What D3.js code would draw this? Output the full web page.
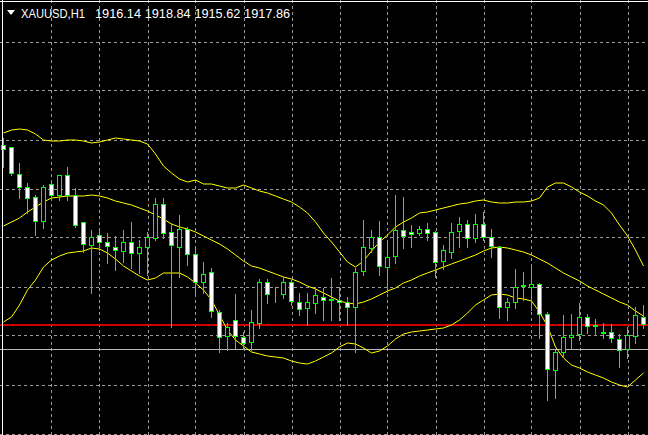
<!DOCTYPE html>
<html>
<head>
<meta charset="utf-8">
<script src="https://cdn.jsdelivr.net/npm/d3@7"></script>
<style>
  html, body { margin: 0; padding: 0; background: #000; }
  svg { display: block; }
</style>
</head>
<body>
<div id="chart"></div>
<script>
// XAUUSD H1 bars (one entry per bar, left to right)
var barOpen = [
  1944.4, 1944.2, 1941.6, 1940.3, 1939.2, 1936.8, 1940.6, 1939.4, 1941.4, 1939.5,
  1936.7, 1934.5, 1935.4, 1934.7, 1934.3, 1933.9, 1934.8, 1933.7, 1934.3, 1935.2,
  1938.6, 1935.7, 1934.3, 1936.1, 1933.6, 1930.8, 1931.7, 1927.8, 1925.3, 1926.9,
  1925.3, 1924.7, 1926.7, 1930.8, 1929.6, 1929.6, 1930.8, 1928.8, 1928.1, 1928.6,
  1929.3, 1929.1, 1928.9, 1928.8, 1928.3, 1931.8, 1934.2, 1935.2, 1932.3, 1933.3,
  1935.9, 1935.7, 1935.7, 1936.1, 1935.8, 1932.8, 1933.8, 1935.8, 1936.5, 1935.1,
  1936.5, 1935.2, 1934.3, 1928.3, 1928.7, 1930.3, 1930.3, 1930.6, 1927.6, 1922.0,
  1923.8, 1925.3, 1925.6, 1927.3, 1926.3, 1925.7, 1925.7, 1925.1, 1924.0, 1925.4,
  1927.3
];
var barHigh = [
  1945.2, 1944.3, 1942.7, 1940.7, 1939.5, 1940.5, 1940.7, 1941.5, 1942.3, 1940.2,
  1936.8, 1936.0, 1936.0, 1935.7, 1935.4, 1936.0, 1936.8, 1935.0, 1935.8, 1939.2,
  1939.2, 1936.7, 1937.5, 1936.3, 1934.2, 1932.8, 1932.2, 1928.0, 1926.7, 1929.6,
  1925.8, 1928.0, 1931.1, 1931.1, 1930.3, 1931.3, 1931.0, 1929.7, 1929.7, 1930.3,
  1930.2, 1931.2, 1930.3, 1929.3, 1932.2, 1937.0, 1936.0, 1936.9, 1935.0, 1939.5,
  1939.3, 1936.5, 1936.4, 1936.7, 1935.9, 1934.5, 1936.7, 1937.3, 1937.0, 1937.6,
  1937.8, 1936.1, 1934.4, 1929.2, 1932.1, 1931.8, 1932.5, 1930.7, 1927.8, 1924.0,
  1927.5, 1927.6, 1928.7, 1927.6, 1927.1, 1926.7, 1926.6, 1925.6, 1926.3, 1928.3,
  1928.5
];
var barLow = [
  1942.3, 1941.5, 1939.2, 1937.7, 1935.5, 1936.2, 1939.0, 1939.0, 1939.0, 1936.3,
  1933.8, 1929.7, 1934.0, 1932.7, 1932.0, 1932.8, 1932.2, 1931.7, 1931.5, 1935.0,
  1935.2, 1926.3, 1931.3, 1932.5, 1929.7, 1929.7, 1927.3, 1923.8, 1924.0, 1924.2,
  1924.1, 1924.0, 1926.2, 1928.7, 1928.8, 1929.2, 1928.5, 1927.5, 1926.5, 1927.7,
  1927.0, 1927.0, 1927.0, 1926.5, 1923.8, 1931.5, 1933.8, 1931.5, 1929.8, 1932.7,
  1934.2, 1934.3, 1935.5, 1935.0, 1931.3, 1932.1, 1933.2, 1934.3, 1934.3, 1934.8,
  1935.0, 1933.3, 1927.2, 1927.0, 1928.2, 1929.0, 1928.0, 1925.2, 1919.0, 1919.2,
  1923.4, 1924.1, 1925.0, 1925.7, 1925.5, 1925.2, 1924.8, 1922.3, 1923.2, 1924.7,
  1926.2
];
var barClose = [
  1944.0, 1941.6, 1940.3, 1939.2, 1936.8, 1940.2, 1939.5, 1941.4, 1939.4, 1936.5,
  1934.5, 1935.3, 1934.7, 1934.3, 1934.0, 1934.8, 1933.7, 1934.3, 1935.3, 1938.6,
  1935.7, 1934.4, 1936.1, 1933.6, 1930.8, 1931.6, 1927.8, 1925.3, 1926.2, 1925.3,
  1924.7, 1926.7, 1930.8, 1929.6, 1929.6, 1930.8, 1928.9, 1928.1, 1928.7, 1929.4,
  1929.0, 1929.0, 1928.7, 1928.3, 1931.8, 1934.2, 1935.3, 1932.3, 1933.3, 1935.9,
  1935.3, 1935.5, 1936.1, 1935.7, 1932.8, 1933.9, 1935.8, 1936.5, 1935.1, 1936.5,
  1935.2, 1934.3, 1928.3, 1928.8, 1930.2, 1930.4, 1930.6, 1927.6, 1922.1, 1923.8,
  1925.3, 1925.5, 1927.3, 1926.4, 1926.4, 1925.8, 1925.1, 1924.0, 1925.4, 1927.5,
  1926.6
];

// Bollinger bands as drawn on the chart (one value per bar)
var bbUpper = [
  1945.7, 1946.0, 1946.1, 1946.0, 1945.6, 1945.0, 1944.9, 1944.9, 1945.0, 1945.0,
  1944.9, 1944.7, 1944.8, 1945.0, 1945.2, 1945.1, 1945.0, 1944.9, 1944.6, 1943.6,
  1942.4, 1941.7, 1941.1, 1940.8, 1941.0, 1940.6, 1940.6, 1940.4, 1940.2, 1940.2,
  1940.5, 1940.2, 1939.9, 1939.7, 1939.4, 1939.1, 1938.8, 1938.3, 1937.7, 1936.8,
  1935.7, 1934.8, 1933.8, 1932.8, 1932.3, 1932.9, 1933.9, 1934.8, 1935.5, 1936.3,
  1936.8, 1937.2, 1937.7, 1937.8, 1938.0, 1938.2, 1938.4, 1938.6, 1938.7, 1938.9,
  1939.0, 1938.8, 1938.7, 1938.7, 1938.8, 1938.8, 1938.9, 1939.2, 1940.3, 1940.7,
  1940.7, 1940.3, 1939.8, 1939.4, 1938.9, 1938.5, 1937.7, 1936.5, 1935.4, 1934.0,
  1932.4
];
var bbMiddle = [
  1936.4, 1936.8, 1937.2, 1937.8, 1938.3, 1938.8, 1939.2, 1939.3, 1939.4, 1939.4,
  1939.4, 1939.5, 1939.4, 1939.2, 1938.9, 1938.7, 1938.5, 1938.2, 1937.9, 1937.5,
  1937.1, 1936.6, 1936.3, 1936.1, 1935.8, 1935.4, 1935.0, 1934.6, 1934.1, 1933.5,
  1932.9, 1932.4, 1932.2, 1931.9, 1931.6, 1931.3, 1931.1, 1930.8, 1930.4, 1930.1,
  1929.7, 1929.3, 1928.9, 1928.7, 1928.6, 1928.8, 1929.1, 1929.5, 1929.9, 1930.2,
  1930.7, 1931.0, 1931.4, 1931.7, 1932.0, 1932.3, 1932.6, 1932.9, 1933.2, 1933.5,
  1933.9, 1934.2, 1934.3, 1934.2, 1934.0, 1933.8, 1933.5, 1933.1, 1932.7, 1932.2,
  1931.7, 1931.3, 1930.9, 1930.4, 1930.0, 1929.6, 1929.2, 1928.8, 1928.5, 1927.9,
  1927.4
];
var bbLower = [
  1926.8, 1927.3, 1928.5, 1930.0, 1931.0, 1932.3, 1933.0, 1933.4, 1933.7, 1933.8,
  1933.9, 1934.2, 1934.1, 1933.7, 1933.1, 1932.4, 1931.9, 1931.4, 1931.0, 1931.2,
  1931.7, 1931.7, 1931.7, 1931.3, 1930.7, 1930.0, 1929.0, 1927.5, 1926.0, 1925.0,
  1924.4, 1923.8, 1923.6, 1923.4, 1923.3, 1923.2, 1922.9, 1922.7, 1922.6, 1922.9,
  1923.3, 1923.7, 1924.3, 1924.7, 1924.6, 1924.2, 1923.7, 1923.9, 1924.4, 1925.1,
  1925.6, 1925.8, 1925.9, 1926.0, 1926.1, 1926.2, 1926.5, 1927.0, 1927.7, 1928.5,
  1929.0, 1929.5, 1929.6, 1929.5, 1929.2, 1929.1, 1928.9, 1927.8, 1926.4, 1924.3,
  1923.2, 1922.5, 1922.2, 1921.8, 1921.5, 1921.2, 1920.8, 1920.5, 1920.3, 1921.0,
  1921.7
];

// horizontal grid prices and vertical grid bars
var gridPrices = [1954.8, 1949.9, 1945.0, 1940.1, 1935.2, 1930.3, 1925.4, 1920.5, 1915.6];
var gridBars = [6, 12, 18, 24, 30, 36, 42, 48, 54, 60, 66, 72, 78];

// horizontal lines: red level and grey bid line
var redLevel = 1926.5;
var bidLevel = 1924.1;

// header text
var symbolLabel = "XAUUSD,H1";
var headerValues = ["1916.14", "1918.84", "1915.62", "1917.86"];

var width = 648, height = 435;

var svg = d3.select("#chart").append("svg")
  .attr("width", width)
  .attr("height", height)
  .style("background", "#000");

var x = d3.scaleLinear().domain([0, barOpen.length - 1]).range([3.5, 643.5]);
var y = d3.scaleLinear().domain([1959, 1915.5]).range([0, 435]);

// snap to pixel centres so 1px lines stay crisp
function px(v) { return Math.round(v - 0.5) + 0.5; }

// grid
var grid = svg.append("g").attr("class", "grid")
  .attr("stroke", "#9a9a9a")
  .attr("stroke-width", 1)
  .attr("stroke-dasharray", "3,3");
grid.selectAll("line.h").data(gridPrices).enter().append("line")
  .attr("class", "h")
  .attr("x1", 0).attr("x2", width)
  .attr("y1", function(d) { return px(y(d)); })
  .attr("y2", function(d) { return px(y(d)); });
grid.selectAll("line.v").data(gridBars).enter().append("line")
  .attr("class", "v")
  .attr("y1", 0).attr("y2", height)
  .attr("x1", function(d) { return px(x(d) + 0.5); })
  .attr("x2", function(d) { return px(x(d) + 0.5); });

// level lines
svg.append("line")
  .attr("x1", 0).attr("x2", width)
  .attr("y1", px(y(bidLevel))).attr("y2", px(y(bidLevel)))
  .attr("stroke", "#b8b8b8").attr("stroke-width", 1);
svg.append("line")
  .attr("x1", 0).attr("x2", width)
  .attr("y1", y(redLevel)).attr("y2", y(redLevel))
  .attr("stroke", "#d00000").attr("stroke-width", 2);

// bollinger bands
var bandLine = d3.line()
  .x(function(d, i) { return x(i); })
  .y(function(d) { return y(d); });
svg.append("g").attr("class", "bands")
  .selectAll("path").data([bbUpper, bbMiddle, bbLower]).enter().append("path")
  .attr("fill", "none")
  .attr("stroke", "#ffff00")
  .attr("stroke-width", 1)
  .attr("d", bandLine);

// candles
var bars = d3.range(barOpen.length);
var candles = svg.append("g").attr("class", "candles");
candles.selectAll("line.wick").data(bars).enter().append("line")
  .attr("class", "wick")
  .attr("x1", function(i) { return px(x(i)); })
  .attr("x2", function(i) { return px(x(i)); })
  .attr("y1", function(i) { return Math.round(y(barHigh[i])); })
  .attr("y2", function(i) { return Math.round(y(barLow[i])) + 1; })
  .attr("stroke", "#00ff00")
  .attr("stroke-width", 1);
candles.selectAll("rect.body").data(bars).enter().append("rect")
  .attr("class", "body")
  .attr("x", function(i) { return px(x(i)) - 2; })
  .attr("width", 4)
  .attr("y", function(i) { return px(y(Math.max(barOpen[i], barClose[i]))); })
  .attr("height", function(i) {
    var h = Math.round(y(Math.min(barOpen[i], barClose[i]))) - Math.round(y(Math.max(barOpen[i], barClose[i])));
    return Math.max(h, 0);
  })
  .attr("fill", function(i) { return barClose[i] < barOpen[i] ? "#ffffff" : "#000000"; })
  .attr("stroke", "#00ff00")
  .attr("stroke-width", 1);

// frame
svg.append("line").attr("x1", 0).attr("x2", width).attr("y1", 1.5).attr("y2", 1.5)
  .attr("stroke", "#ffffff").attr("stroke-width", 1);
svg.append("line").attr("x1", 2.5).attr("x2", 2.5).attr("y1", 0).attr("y2", height)
  .attr("stroke", "#ffffff").attr("stroke-width", 1);

// header (terminal font is narrower than Arial, so squeeze to the measured widths)
var head = svg.append("g").attr("class", "header")
  .attr("font-family", "'Liberation Sans', Arial, sans-serif")
  .attr("font-size", "13px")
  .attr("fill", "#ffffff");
head.append("path").attr("d", "M7,10 L15,10 L11,15 Z").attr("fill", "#ffffff");
head.append("text").attr("x", 21).attr("y", 17.5)
  .attr("textLength", 64).attr("lengthAdjust", "spacingAndGlyphs")
  .text(symbolLabel);
head.selectAll("text.val").data(headerValues).enter().append("text")
  .attr("class", "val")
  .attr("x", function(d, i) { return 95 + i * 49.7; })
  .attr("y", 17.5)
  .attr("textLength", 46).attr("lengthAdjust", "spacingAndGlyphs")
  .text(function(d) { return d; });
</script>
</body>
</html>
